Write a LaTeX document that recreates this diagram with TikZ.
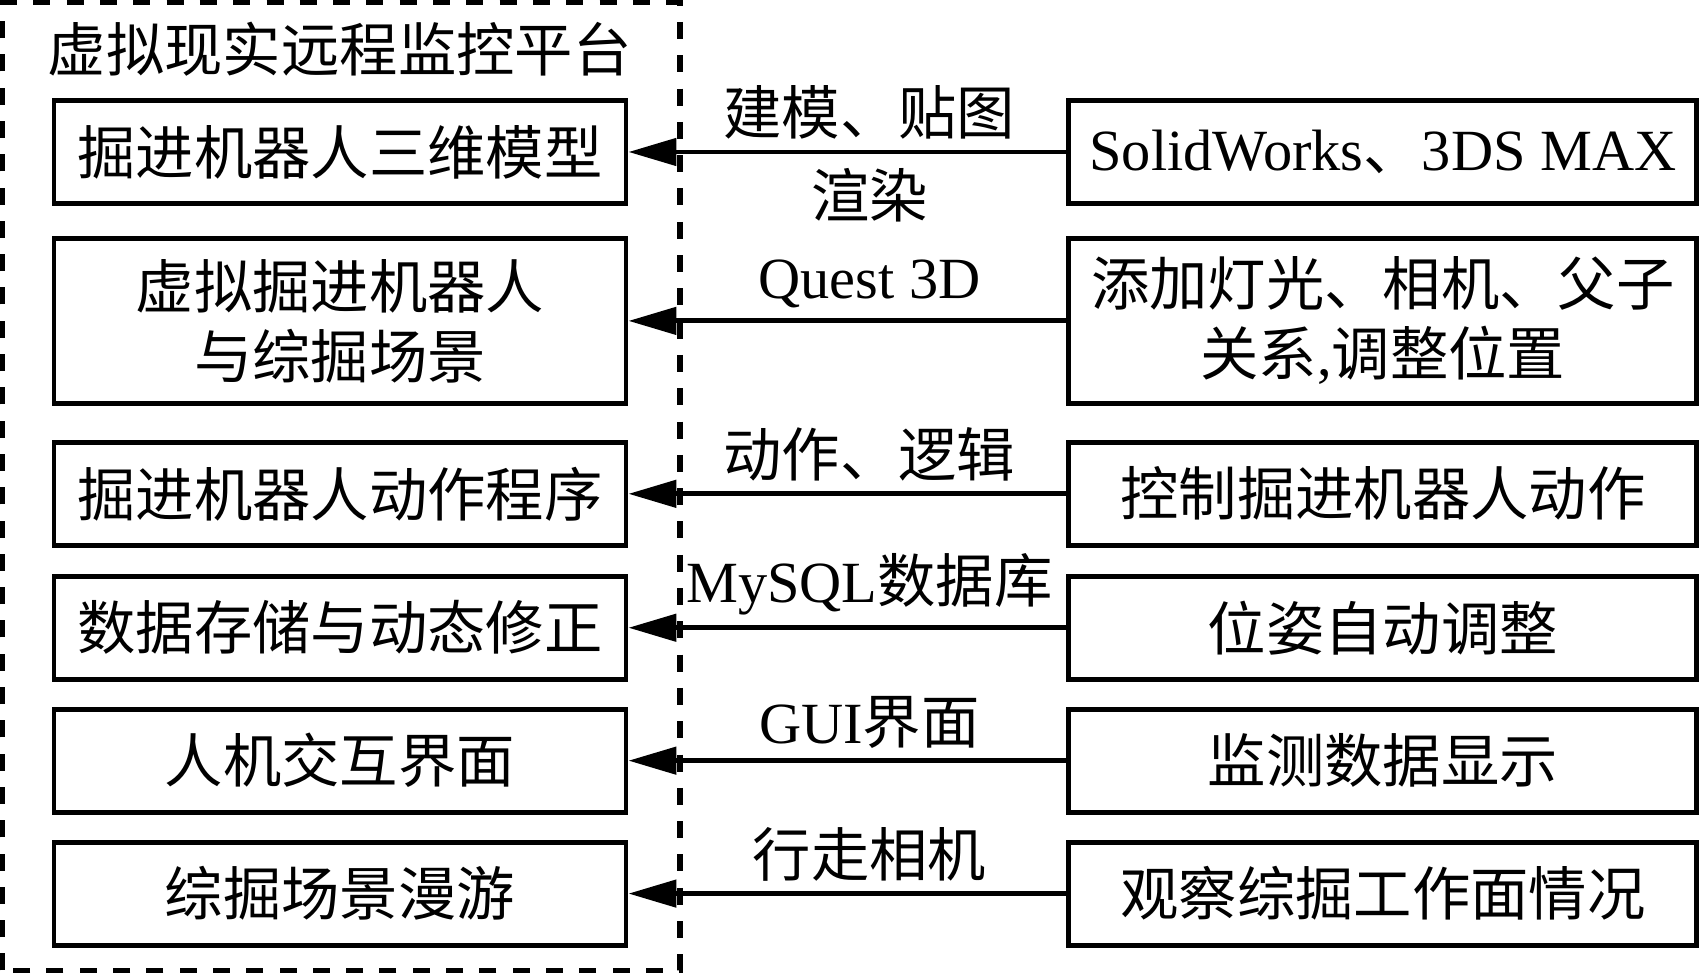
\documentclass[tikz,border=0pt]{standalone}
\usepackage{fontspec}
\setmainfont{Liberation Serif}
\newfontfamily\cjk{Noto Sans CJK SC}
\usetikzlibrary{arrows.meta,positioning}

\newcommand{\eng}[1]{{\rmfamily #1}}

\tikzset{
  box/.style={draw,line width=1.4pt,minimum width=5.72cm,minimum height=1.03cm,
              inner sep=0pt,align=center},
  src/.style={box,minimum width=6.28cm},
  tall/.style={minimum height=1.65cm},
  lab/.style={pos=.45,inner sep=1mm},
}

\begin{document}
\begin{tikzpicture}[->,>={Triangle[length=4.8mm,width=2.7mm]},line width=1.4pt,
                    font=\cjk\fontsize{16.6}{19.9}\selectfont]
  \useasboundingbox (0,0) rectangle (17.02,9.76);
  % platform frame
  \draw[-,line width=1.6pt,dash pattern=on 1.7mm off 1.63mm]
    (0.025,0.055) rectangle (6.80,9.735);
  \node[anchor=west,inner sep=0pt] (title) at (0.455,9.27) {虚拟现实远程监控平台};

  \node[box]      (l1) at (3.40,8.24)   {掘进机器人三维模型};
  \node[box,tall] (l2) [below=3.0mm of l1] {虚拟掘进机器人\\与综掘场景};
  \node[box]      (l3) [below=3.4mm of l2] {掘进机器人动作程序};
  \node[box]      (l4) [below=2.6mm of l3] {数据存储与动态修正};
  \node[box]      (l5) [below=2.5mm of l4] {人机交互界面};
  \node[box]      (l6) [below=2.5mm of l5] {综掘场景漫游};

  \node[src]      (r1) [right=4.38cm of l1] {\eng{SolidWorks}、\eng{3DS MAX}};
  \node[src,tall] (r2) [right=4.38cm of l2] {添加灯光、相机、父子\\关系\eng{,}调整位置};
  \node[src]      (r3) [right=4.38cm of l3] {控制掘进机器人动作};
  \node[src]      (r4) [right=4.38cm of l4] {位姿自动调整};
  \node[src]      (r5) [right=4.38cm of l5] {监测数据显示};
  \node[src]      (r6) [right=4.38cm of l6] {观察综掘工作面情况};

  \path (r1) edge node[lab,above] {建模、贴图} node[lab,below,inner sep=1.4mm] {渲染} (l1)
        (r2) edge node[lab,above] {\eng{Quest 3D}} (l2)
        (r3) edge node[lab,above] {动作、逻辑} (l3)
        (r4) edge node[lab,above] {\eng{MySQL}数据库} (l4)
        (r5) edge node[lab,above] {\eng{GUI}界面} (l5)
        (r6) edge node[lab,above] {行走相机} (l6);
\end{tikzpicture}
\end{document}
